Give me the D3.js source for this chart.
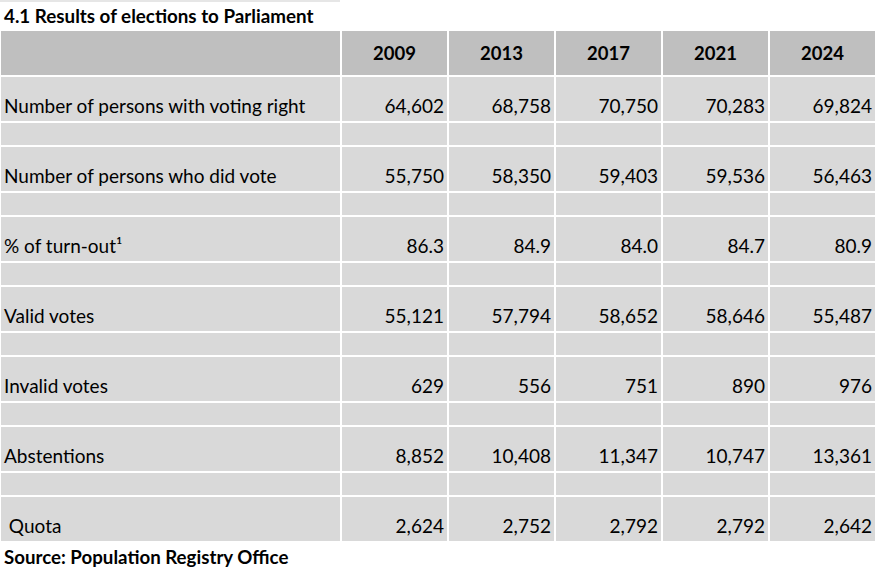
<!DOCTYPE html>
<html><head><meta charset="utf-8">
<script src="https://cdn.jsdelivr.net/npm/d3@7"></script>
<style>body{margin:0;background:#fff}</style>
</head><body><svg id="c" width="878" height="573"></svg>
<script>
const years = ["2009","2013","2017","2021","2024"];
const labels = ["Number of persons with voting right","Number of persons who did vote","% of turn-out\u00b9","Valid votes","Invalid votes","Abstentions"," Quota"];
const values = [
  ["64,602","68,758","70,750","70,283","69,824"],
  ["55,750","58,350","59,403","59,536","56,463"],
  ["86.3","84.9","84.0","84.7","80.9"],
  ["55,121","57,794","58,652","58,646","55,487"],
  ["629","556","751","890","976"],
  ["8,852","10,408","11,347","10,747","13,361"],
  ["2,624","2,752","2,792","2,792","2,642"]
];

const svg = d3.select("#c");
const font = "Lato, 'Open Sans', sans-serif";
const colEdges = [0,341,448,555,662,769,876];
const headTop = 31, headH = 44, rowH = 44, gapH = 22, period = 70, firstRow = 77;

svg.append("text").attr("x",4).attr("y",23).attr("font-family",font).attr("font-weight","bold")
  .attr("font-size",18.8).text("4.1 Results of elections to Parliament");
svg.append("line").attr("x1",0).attr("x2",340).attr("y1",1).attr("y2",1).attr("stroke","#e6e6e6").attr("stroke-width",2);

// header
for (let c = 0; c < 6; c++) {
  svg.append("rect").attr("x",colEdges[c]+1).attr("y",headTop)
    .attr("width",colEdges[c+1]-colEdges[c]-2).attr("height",headH).attr("fill","#bfbfbf");
}
years.forEach((y,i)=>{
  svg.append("text").attr("x",(colEdges[i+1]+colEdges[i+2])/2).attr("y",60)
    .attr("text-anchor","middle").attr("font-family",font).attr("font-weight","bold")
    .attr("font-size",18.5).text(y);
});

// body
labels.forEach((lab,r)=>{
  const top = firstRow + r*period;
  for (let c = 0; c < 6; c++) {
    const x = colEdges[c]+1, w = colEdges[c+1]-colEdges[c]-2;
    svg.append("rect").attr("x",x).attr("y",top).attr("width",w).attr("height",rowH).attr("fill","#d9d9d9");
    if (r < labels.length-1)
      svg.append("rect").attr("x",x).attr("y",top+rowH+2).attr("width",w).attr("height",gapH).attr("fill","#d9d9d9");
  }
  svg.append("text").attr("x",4).attr("y",top+36).attr("font-family",font).attr("font-size",19)
    .attr("xml:space","preserve").text(lab);
  values[r].forEach((v,i)=>{
    svg.append("text").attr("x",colEdges[i+2]-4).attr("y",top+36).attr("text-anchor","end")
      .attr("font-family",font).attr("font-size",19).text(v);
  });
});

svg.append("text").attr("x",4).attr("y",564).attr("font-family",font).attr("font-weight","bold")
  .attr("font-size",18.7).text("Source: Population Registry Office");
</script></body></html>
